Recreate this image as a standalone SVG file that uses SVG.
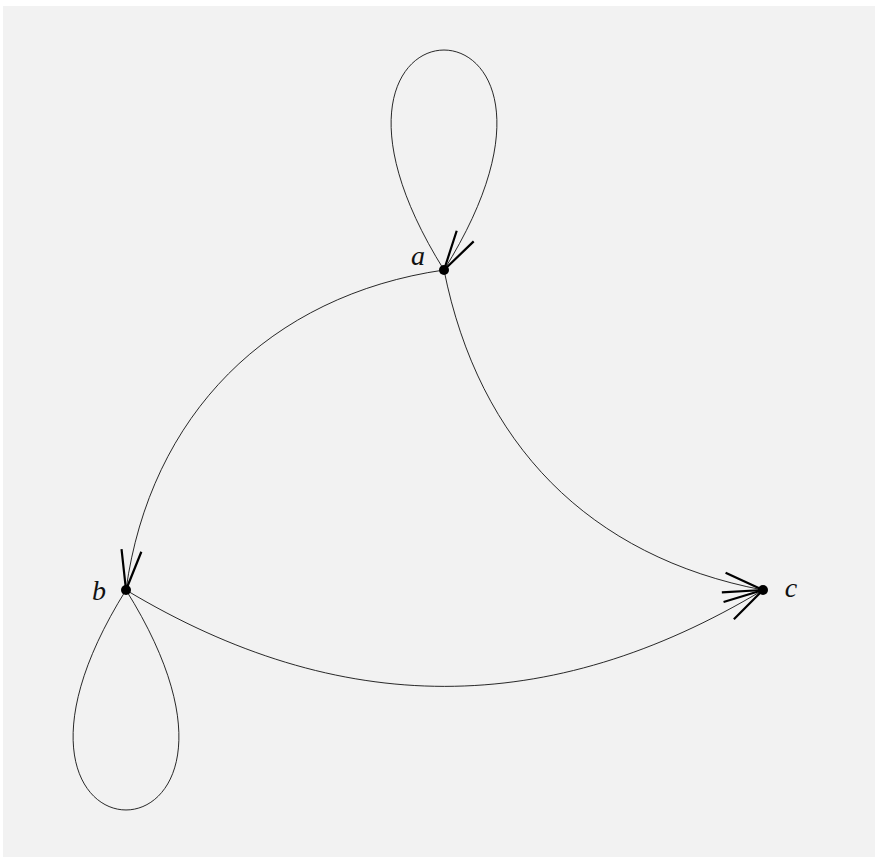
<svg xmlns="http://www.w3.org/2000/svg" width="875" height="858" viewBox="0 0 875 858">
  <defs>
    <style>
      .edge { fill: none; stroke: #111; stroke-width: 0.9; }
      .arrow { marker-end: url(#vee); }
      .dot { fill: #000; }
      .lbl { font-family: "Liberation Serif", "DejaVu Serif", serif; font-style: italic; font-size: 28px; fill: #111; text-anchor: middle; }
    </style>
    <marker id="vee" markerUnits="userSpaceOnUse" viewBox="-45 -15 50 30" markerWidth="50" markerHeight="30" refX="0" refY="0" orient="auto" overflow="visible">
      <path d="M -40 -10 L 0 0 L -40 10" fill="none" stroke="#000" stroke-width="2.2" stroke-linecap="butt" stroke-linejoin="miter"/>
    </marker>
  </defs>
  <rect x="3" y="6" width="872" height="851" fill="#f2f2f2"/>
  <g id="connectors">
    <path id="loop-a" class="edge arrow" d="M 444 270 C 260.7 -23.3 627.3 -23.3 444 270"/>
    <path id="loop-b" class="edge" d="M 126 590 C -57.3 883.3 309.3 883.3 126 590"/>
    <path id="a-b" class="edge arrow" d="M 444 270 C 269.2 295.2 150 415 126 590"/>
    <path id="a-c" class="edge arrow" d="M 444 270 C 478.7 443.6 589 556.8 763 590"/>
    <path id="b-c" class="edge arrow" d="M 126 590 C 339.8 718.5 549.2 718.5 763 590"/>
  </g>
  <g id="node-a">
    <circle class="dot" cx="444" cy="270" r="5"/>
    <text class="lbl" x="418" y="265">a</text>
  </g>
  <g id="node-b">
    <circle class="dot" cx="126" cy="590" r="5"/>
    <text class="lbl" x="99" y="600">b</text>
  </g>
  <g id="node-c">
    <circle class="dot" cx="763" cy="590" r="5"/>
    <text class="lbl" x="791" y="597">c</text>
  </g>
</svg>
